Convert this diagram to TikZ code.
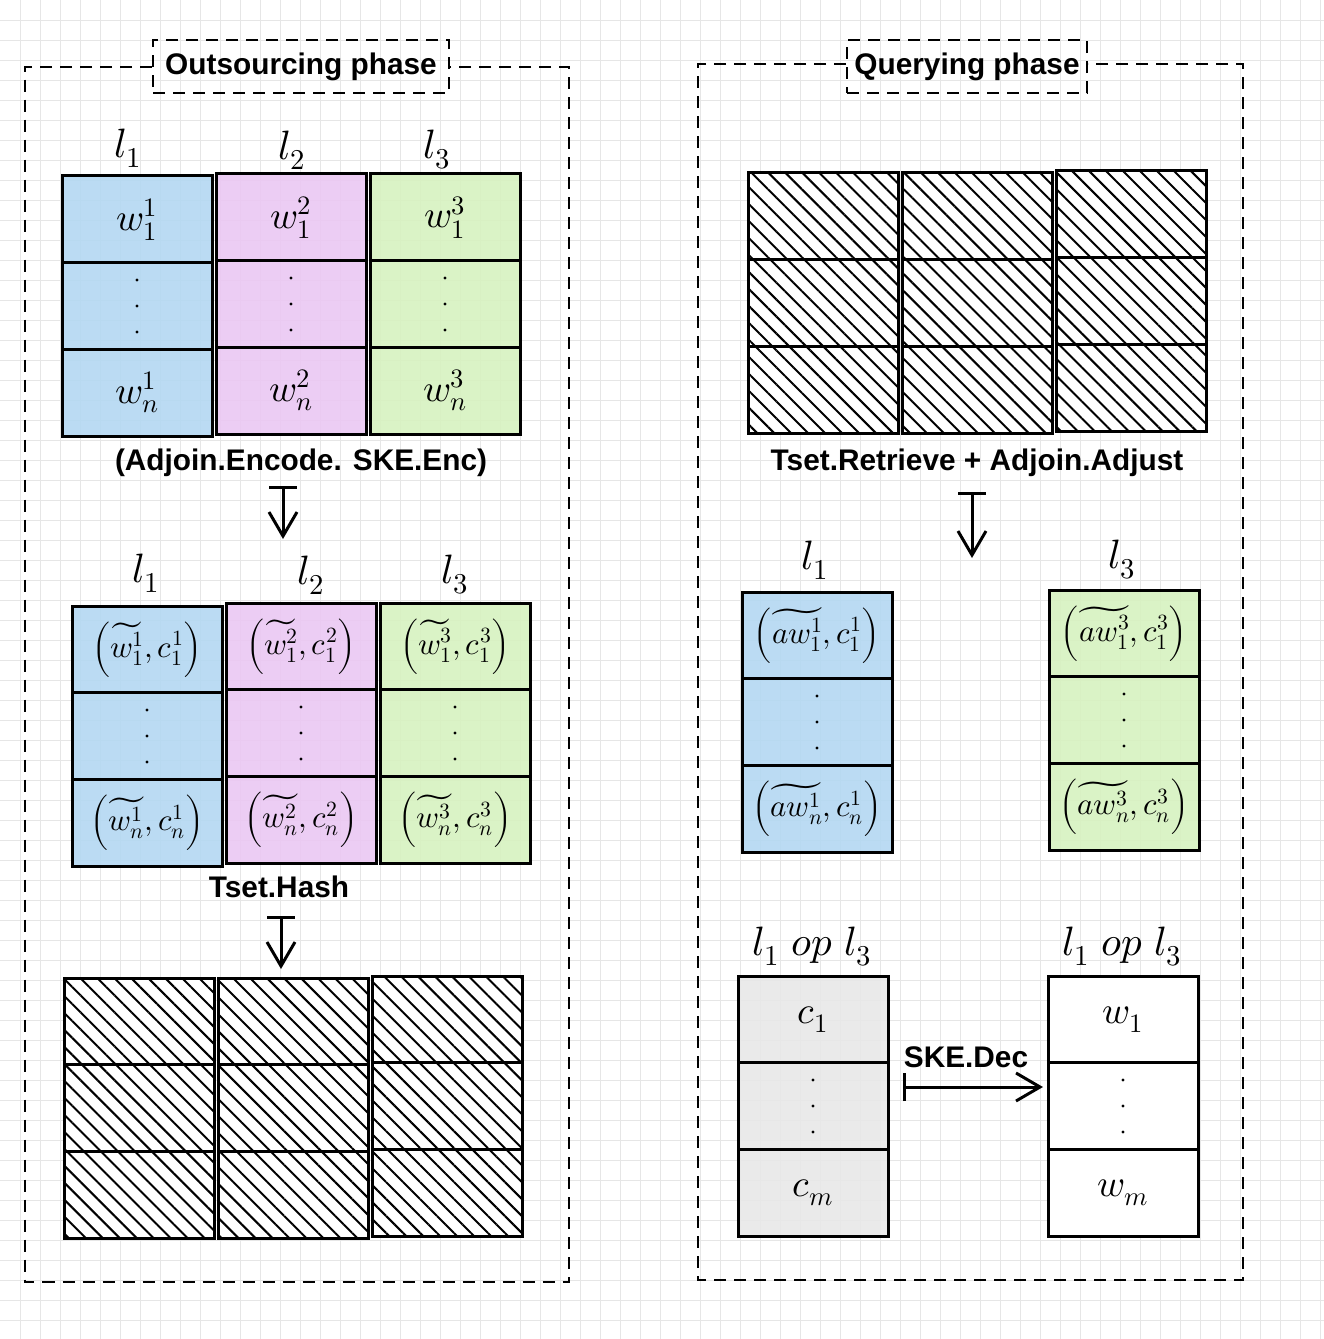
\documentclass[tikz,border=0pt]{standalone}
\usepackage{fontspec}
\usepackage{unicode-math}
\setmathfont{Latin Modern Math}
\setsansfont{Liberation Sans}
\usetikzlibrary{arrows.meta,patterns.meta}
\definecolor{cblue}{HTML}{B4D8F2}
\definecolor{cpink}{HTML}{EBC8F3}
\definecolor{cgreen}{HTML}{D7F2C0}
\definecolor{cgray}{HTML}{E8E8E8}
\definecolor{gridc}{HTML}{E6E6E6}
\newcommand\tcol[6]{%
  \node[#4] (#1a) at (#2,#3+43.33) {#5};
  \node[#4] (#1b) at (#2,#3+130) {};
  \node[#4] (#1c) at (#2,#3+216.67) {#6};
}
\newcommand\tup[1]{{\fontsize{31}{36}\selectfont$\left(#1\right)$}}
\newcommand\dotsin[1]{\foreach \dd in {-26,0,26} {\fill ([yshift=\dd pt]#1.center) circle (1.7pt);}}
\begin{document}
\begin{tikzpicture}[x=1pt,y=-1pt,
  gridline/.style={draw=gridc, line width=1pt},
  cell/.style={draw=black, line width=3pt, minimum width=150pt, minimum height=86.67pt, inner sep=0pt, font=\fontsize{38}{44}\selectfont},
  bluecell/.style={cell, fill=cblue, fill opacity=0.9, text opacity=1},
  pinkcell/.style={cell, fill=cpink, fill opacity=0.9, text opacity=1},
  greencell/.style={cell, fill=cgreen, fill opacity=0.9, text opacity=1},
  graycell/.style={cell, fill=cgray, fill opacity=0.9, text opacity=1},
  whitecell/.style={cell, fill=white},
  hatchcell/.style={cell, preaction={fill=white}, pattern={Lines[angle=-45,distance=12pt,line width=2pt]}},
  dashbox/.style={line width=2pt, dash pattern=on 12pt off 8pt},
  phase/.style={dashbox, draw=black, minimum height=53pt, inner sep=0pt, font=\sffamily\bfseries\fontsize{29.8}{34}\selectfont},
  lbl/.style={font=\sffamily\bfseries\fontsize{29.8}{34}\selectfont, inner sep=0pt},
  hdr/.style={font=\fontsize{41}{48}\selectfont, inner sep=0pt},
  flow/.style={line width=3pt, {Bar[width=28pt]}-{Straight Barb[length=24pt,width=28pt]}},
]
\useasboundingbox (0,0) rectangle (1324,1339);
\fill[white] (0,0) rectangle (1324,1339);
\foreach \i in {1,...,66} {\draw[gridline] (\i*20+0.5,0) -- (\i*20+0.5,1339);}
\foreach \i in {1,...,66} {\draw[gridline] (0,\i*20+0.5) -- (1324,\i*20+0.5);}

% phase frames
\node[phase, minimum width=296pt] (tout) at (301,66.5) {Outsourcing phase};
\node[phase, minimum width=240pt] (tqry) at (967,66.5) {Querying phase};
\draw[dashbox] (tout.west) -- (25,66.5) -- (25,1282) -- (569,1282) -- (569,66.5) -- (tout.east);
\draw[dashbox] (tqry.west |- 0,64) -- (698,64) -- (698,1280) -- (1243,1280) -- (1243,64) -- (tqry.east |- 0,64);

% ---------- Outsourcing: plaintext columns
\tcol{A}{137}{176}{bluecell}{$w_1^1$}{$w_n^1$}
\tcol{B}{291}{174}{pinkcell}{$w_1^2$}{$w_n^2$}
\tcol{C}{445}{174}{greencell}{$w_1^3$}{$w_n^3$}
\dotsin{Ab}\dotsin{Bb}\dotsin{Cb}
\node[hdr] (hA) at (128,148) {$l_1$};
\node[hdr] (hB) at (292,150) {$l_2$};
\node[hdr] (hC) at (437,150) {$l_3$};

\node[lbl] (enc) at (301,463) {(Adjoin.Encode. SKE.Enc)};
\coordinate (a1s) at (283,486);
\coordinate (a1e) at (283,539);
\draw[flow] (a1s) -- (a1e);

% ---------- Outsourcing: encoded columns
\tcol{D}{147}{606}{bluecell}{\tup{\widetilde{w_1^1},c_1^1}}{\tup{\widetilde{w_n^1},c_n^1}}
\tcol{E}{301}{603}{pinkcell}{\tup{\widetilde{w_1^2},c_1^2}}{\tup{\widetilde{w_n^2},c_n^2}}
\tcol{F}{455}{603}{greencell}{\tup{\widetilde{w_1^3},c_1^3}}{\tup{\widetilde{w_n^3},c_n^3}}
\dotsin{Db}\dotsin{Eb}\dotsin{Fb}
\node[hdr] (hD) at (146,573) {$l_1$};
\node[hdr] (hE) at (311,575) {$l_2$};
\node[hdr] (hF) at (455,575) {$l_3$};

\node[lbl] (hash) at (279,887) {Tset.Hash};
\coordinate (a2s) at (281,916);
\coordinate (a2e) at (281,969);
\draw[flow] (a2s) -- (a2e);

% ---------- Outsourcing: hashed columns
\tcol{G}{139}{978}{hatchcell}{}{}
\tcol{H}{293}{978}{hatchcell}{}{}
\tcol{I}{447}{976}{hatchcell}{}{}

% ---------- Querying: hashed columns
\tcol{J}{823}{173}{hatchcell}{}{}
\tcol{K}{977}{173}{hatchcell}{}{}
\tcol{L}{1131}{171}{hatchcell}{}{}

\node[lbl] (retr) at (977,463) {Tset.Retrieve + Adjoin.Adjust};
\coordinate (a3s) at (972,492);
\coordinate (a3e) at (972,558);
\draw[flow] (a3s) -- (a3e);

% ---------- Querying: retrieved columns
\tcol{M}{817}{592}{bluecell}{\tup{\widetilde{aw_1^1},c_1^1}}{\tup{\widetilde{aw_n^1},c_n^1}}
\tcol{N}{1124}{590}{greencell}{\tup{\widetilde{aw_1^3},c_1^3}}{\tup{\widetilde{aw_n^3},c_n^3}}
\dotsin{Mb}\dotsin{Nb}
\node[hdr] (hM) at (815,560) {$l_1$};
\node[hdr] (hN) at (1122,560) {$l_3$};

% ---------- Querying: result columns
\tcol{O}{813}{976}{graycell}{$c_1$}{$c_m$}
\tcol{P}{1123}{976}{whitecell}{$w_1$}{$w_m$}
\dotsin{Ob}\dotsin{Pb}
\node[hdr] (hO) at (812,947) {$l_1\;op\;l_3$};
\node[hdr] (hP) at (1122,947) {$l_1\;op\;l_3$};

\node[lbl] (dec) at (966,1057) {SKE.Dec};
\coordinate (a4s) at (903,1087);
\coordinate (a4e) at (1043,1087);
\draw[flow] (a4s) -- (a4e);
\end{tikzpicture}
\end{document}
